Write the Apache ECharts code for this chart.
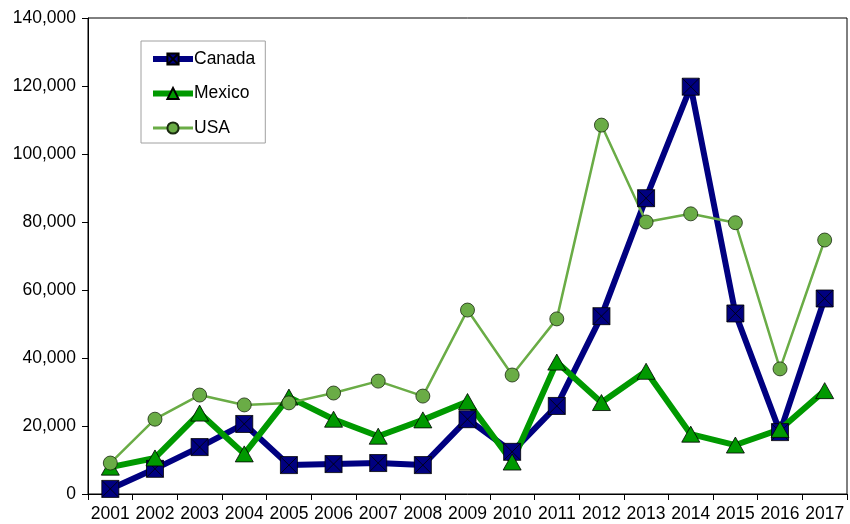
<!DOCTYPE html>
<html>
<head>
<meta charset="utf-8">
<script src="https://cdn.jsdelivr.net/npm/echarts@6/dist/echarts.min.js"></script>
<style>
html,body{margin:0;padding:0;background:#fff;}
#chart{width:850px;height:524px;}
</style>
</head>
<body>
<div id="chart"></div>
<script>
// Yearly figures by country
const years = ['2001','2002','2003','2004','2005','2006','2007','2008','2009','2010','2011','2012','2013','2014','2015','2016','2017'];
const canada = [1500, 7400, 13800, 20600, 8500, 8800, 9100, 8500, 22000, 12400, 25900, 52300, 87000, 119800, 53100, 18200, 57500];
const mexico = [7900, 10600, 23800, 11800, 28500, 22000, 17000, 21800, 27200, 9400, 38800, 26900, 36100, 17600, 14400, 19000, 30400];
const usa = [9100, 22000, 29100, 26200, 26800, 29700, 33200, 28800, 54100, 35000, 51500, 108500, 80000, 82400, 79800, 36800, 74700];
const yMin = 0, yMax = 140000, yStep = 20000;

// Square with a cross drawn through it
const crossSquare = 'path://M0,0L10,0L10,10L0,10Z M0,0L10,10 M10,0L0,10';

const chart = echarts.init(document.getElementById('chart'), null, {renderer: 'canvas'});
const font = 'Liberation Sans, Arial, sans-serif';
const fs = 17.5;

chart.setOption({
  animation: false,
  backgroundColor: '#fff',
  textStyle: {fontFamily: font},
  grid: {
    left: 88, right: 3, top: 18, bottom: 30,
    show: true, borderColor: '#000', borderWidth: 1
  },
  legend: {
    orient: 'vertical',
    left: 141, top: 41,
    padding: [9, 10, 6, 9],
    itemGap: 16.5,
    itemWidth: 40, itemHeight: 14,
    backgroundColor: '#fff',
    borderColor: '#a0a0a0',
    borderWidth: 1,
    textStyle: {fontFamily: font, fontSize: fs, color: '#000', padding: [0, 0, 0, -4]},
    data: [
      {name: 'Canada', lineStyle: {width: 6}},
      {name: 'Mexico', lineStyle: {width: 6}},
      {name: 'USA', lineStyle: {width: 3}}
    ]
  },
  xAxis: {
    type: 'category',
    data: years,
    boundaryGap: true,
    axisLine: {lineStyle: {color: '#000', width: 1}},
    axisTick: {show: true, inside: false, length: 6, lineStyle: {color: '#000'}},
    axisLabel: {color: '#000', fontSize: fs, fontFamily: font, margin: 11, interval: 0},
    splitLine: {show: false}
  },
  yAxis: {
    type: 'value',
    min: yMin, max: yMax, interval: yStep,
    axisLine: {show: true, lineStyle: {color: '#000', width: 1}},
    axisTick: {show: true, length: 6, lineStyle: {color: '#000'}},
    axisLabel: {
      color: '#000', fontSize: fs, fontFamily: font, margin: 12,
      formatter: v => v.toLocaleString('en-US')
    },
    splitLine: {show: false}
  },
  series: [
    {
      name: 'Canada',
      type: 'line',
      data: canada,
      symbol: crossSquare,
      symbolSize: 17,
      lineStyle: {color: '#000080', width: 6},
      itemStyle: {color: '#000080', borderColor: '#000', borderWidth: 0.8},
      emphasis: {disabled: true}
    },
    {
      name: 'Mexico',
      type: 'line',
      data: mexico,
      symbol: 'triangle',
      symbolSize: [18, 16],
      lineStyle: {color: '#009900', width: 6},
      itemStyle: {color: '#009900', borderColor: '#000', borderWidth: 0.8},
      emphasis: {disabled: true}
    },
    {
      name: 'USA',
      type: 'line',
      data: usa,
      symbol: 'circle',
      symbolSize: 14,
      lineStyle: {color: '#6aac46', width: 2.5},
      itemStyle: {color: '#6aac46', borderColor: '#1a2a10', borderWidth: 0.8},
      emphasis: {disabled: true}
    }
  ]
});
</script>
</body>
</html>
